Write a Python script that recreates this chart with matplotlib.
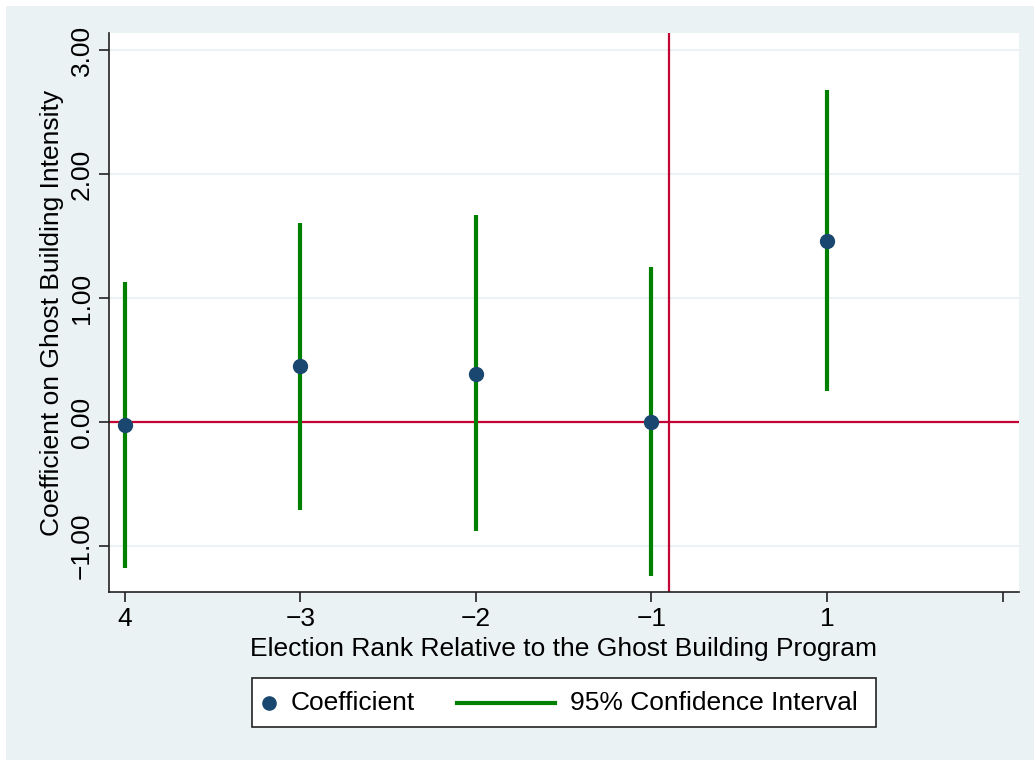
import matplotlib.pyplot as plt
import matplotlib.patches as patches
from matplotlib.lines import Line2D
import numpy as np

plt.rcParams['font.family'] = ['Liberation Sans', 'DejaVu Sans']

# posiciones equiespaciadas, etiquetas como en el original
pos = [0, 1, 2, 3, 4]
tick_pos = [0, 1, 2, 3, 4, 5]
tick_labels = ['4', '\u22123', '\u22122', '\u22121', '1', '']
coef = [-0.02, 0.45, 0.39, 0.00, 1.46]
ci_lo = [-1.18, -0.71, -0.88, -1.24, 0.25]
ci_hi = [1.13, 1.61, 1.67, 1.25, 2.68]
vline_x = 3.1

y_ticks = [-1, 0, 1, 2, 3]
y_labels = ['\u22121.00', '0.00', '1.00', '2.00', '3.00']

bg = '#eaf2f3'
navy = '#1a476f'
green = '#008000'
red = '#c10534'

W, H = 1034, 760
fig = plt.figure(figsize=(W / 100, H / 100), dpi=100)
fig.patch.set_facecolor('white')
fig.patches.append(patches.Rectangle((6 / W, 0), 1 - 6 / W, 1 - 6 / H,
                                     transform=fig.transFigure, facecolor=bg,
                                     edgecolor='none', zorder=-10))

ax = fig.add_axes([109 / W, 1 - 592 / H, 910 / W, 559 / H])
ax.set_facecolor('white')

for yt in y_ticks:
    ax.axhline(yt, color=bg, lw=1.5, zorder=0)

ax.axhline(0, color=red, lw=1.6, zorder=1)
ax.axvline(vline_x, color=red, lw=1.6, zorder=1)

ax.vlines(pos, ci_lo, ci_hi, color=green, lw=3, zorder=2)
ax.plot(pos, coef, 'o', color=navy, markersize=10, zorder=3)

ax.set_xlim(-0.091, 5.094)
ax.set_ylim(-1.37, 3.14)
ax.set_xticks(tick_pos)
ax.set_xticklabels(tick_labels)
ax.set_yticks(y_ticks)
ax.set_yticklabels(y_labels, rotation=90, va='center')

for s in ['top', 'right']:
    ax.spines[s].set_visible(False)
for s in ['left', 'bottom']:
    ax.spines[s].set_color('#222222')
    ax.spines[s].set_linewidth(1.2)
ax.tick_params(axis='both', length=7, width=1.2, color='#222222',
               labelsize=19, pad=4)

ax.set_xlabel('Election Rank Relative to the Ghost Building Program',
              fontsize=19, labelpad=4)
ax.set_ylabel('Coefficient on Ghost Building Intensity', fontsize=19,
              labelpad=4)

# leyenda dibujada a mano (marcador a la izquierda como en Stata)
def fx(px):
    return px / W

def fy(py):
    return 1 - py / H

fig.add_artist(patches.Rectangle((fx(252), fy(727)), fx(876) - fx(252),
                                 fy(678) - fy(727), transform=fig.transFigure,
                                 facecolor='white', edgecolor='#222222', lw=1.2))
fig.add_artist(Line2D([fx(269)], [fy(703)], marker='o', color=navy,
                      markersize=9.5, transform=fig.transFigure))
fig.text(fx(291), fy(703), 'Coefficient', fontsize=19, va='center')
fig.add_artist(Line2D([fx(457), fx(555)], [fy(703), fy(703)], color=green,
                      lw=3, transform=fig.transFigure))
fig.text(fx(570), fy(703), '95% Confidence Interval', fontsize=19,
         va='center')

fig.savefig('out.png', dpi=100)
